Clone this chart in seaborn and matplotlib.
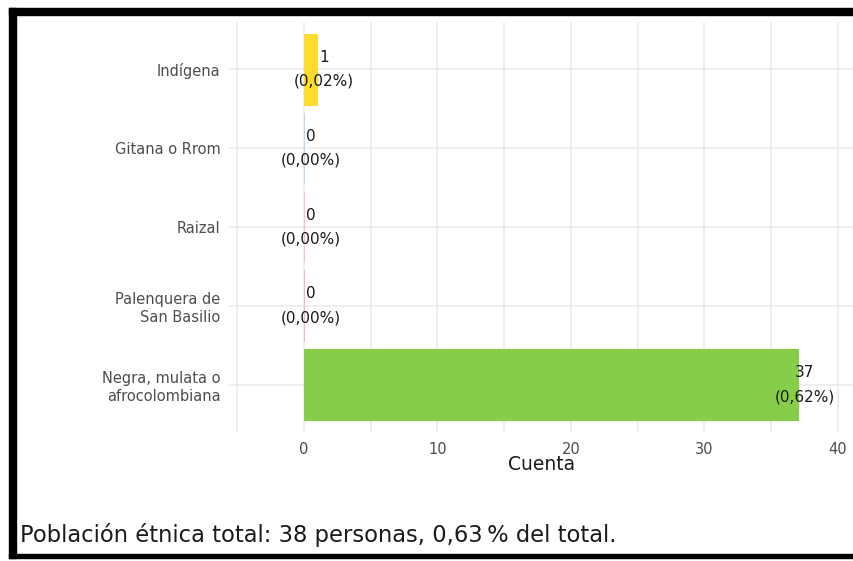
import matplotlib
matplotlib.use("Agg")
import matplotlib.pyplot as plt
from matplotlib.patches import Rectangle
import seaborn as sns
import pandas as pd

categorias = ["Indígena", "Gitana o Rrom", "Raizal", "Palenquera de\nSan Basilio",
              "Negra, mulata o\nafrocolombiana"]
cuentas = [1, 0, 0, 0, 37]
porcentajes = ["0,02%", "0,00%", "0,00%", "0,00%", "0,62%"]
colores = ["#FDDC2E", "#BFD9EA", "#F4C4CC", "#F2B8C0", "#86CE4A"]
resumen = "Población étnica total: 38 personas, 0,63\u202f% del total."

df = pd.DataFrame({"grupo": categorias, "cuenta": cuentas})

sns.set_theme(style="whitegrid")
plt.rcParams["font.family"] = ["DejaVu Sans"]

fig = plt.figure(figsize=(8.54, 5.61), dpi=100)
ax = fig.add_axes([229 / 854, 1 - 432 / 561, 1 - 229 / 854, (432 - 22) / 561])

sns.barplot(data=df, y="grupo", x="cuenta", hue="grupo", palette=colores,
            legend=False, width=0.9, ax=ax, saturation=1, orient="h")
for patch, c in zip(ax.patches, colores):
    patch.set_edgecolor(c)
    patch.set_linewidth(0.8)

for i, (v, p) in enumerate(zip(cuentas, porcentajes)):
    ax.text(v + 0.5, i, f"{v}\n({p})", ha="center", va="center",
            fontsize=11, color="#1a1a1a", linespacing=1.75)

ax.set_xlim(-5.6, 41.2)
ax.set_ylim(4.6, -0.6)
ax.set_xticks([0, 10, 20, 30, 40])
ax.set_xticks([-5, 5, 15, 25, 35], minor=True)
ax.grid(True, which="major", color="#ebebeb", linewidth=1.1)
ax.grid(True, which="minor", axis="x", color="#ebebeb", linewidth=1.1)
ax.tick_params(axis="both", which="both", length=0, labelsize=10.5,
               labelcolor="#4d4d4d")
ax.tick_params(axis="x", pad=7)
ax.tick_params(axis="y", pad=6)
for lbl in ax.get_yticklabels():
    lbl.set_linespacing(1.2)
for s in ax.spines.values():
    s.set_visible(False)
ax.set_ylabel("")
ax.set_xlabel("Cuenta", fontsize=13.5, color="#1a1a1a", labelpad=-1)

fig.text(20 / 854, 1 - 535 / 561, resumen, fontsize=16.3, color="#1a1a1a",
         ha="left", va="center")

# black frame around the figure
fig.patches.append(Rectangle((9 / 854, 1 - 558 / 561), 7 / 854, 550 / 561,
                             transform=fig.transFigure, color="black"))
fig.patches.append(Rectangle((9 / 854, 1 - 15 / 561), 845 / 854, 7 / 561,
                             transform=fig.transFigure, color="black"))
fig.patches.append(Rectangle((9 / 854, 1 - 558 / 561), 845 / 854, 4 / 561,
                             transform=fig.transFigure, color="black"))

fig.savefig("out.png", dpi=100)
